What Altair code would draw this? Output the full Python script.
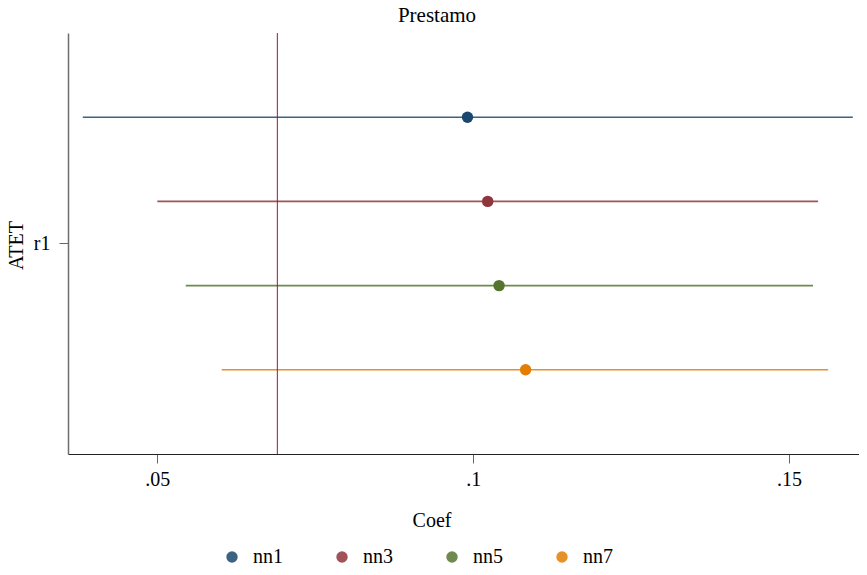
import altair as alt
import pandas as pd

# ---- data ----
models = ["nn1", "nn3", "nn5", "nn7"]
coef = [0.0991, 0.1023, 0.1041, 0.1083]
ci_lo = [0.0382, 0.0500, 0.0545, 0.0602]
ci_hi = [0.1601, 0.1546, 0.1538, 0.1562]
equation = ["r1", "r1", "r1", "r1"]
xline = [0.0690]
x_ticks = [0.05, 0.10, 0.15]
colors = ["#1a476f", "#90353b", "#55752f", "#e37e00"]
title_text = ["Prestamo"]

df = pd.DataFrame({"model": models, "coef": coef, "lo": ci_lo, "hi": ci_hi, "eq": equation})
df_line = pd.DataFrame({"v": xline})
df_title = pd.DataFrame({"t": title_text})

FONT = "Liberation Serif"
x_dom = [0.03586, 0.16108]
x_scale = alt.Scale(domain=x_dom, nice=False, zero=False)

x_axis = alt.Axis(
    values=x_ticks, labelExpr="substring(format(datum.value, '.2~f'), 1)",
    title="Coef", grid=False, tickSize=9, labelPadding=6, titlePadding=21,
    domainColor="#222222", tickColor="#666666", labelFontSize=20, titleFontSize=20,
    labelFont=FONT, titleFont=FONT,
    labelColor="#000000", titleColor="#000000", titleFontWeight="normal",
    titleX=363.5, titleAlign="center",
)
y_enc = alt.Y(
    "eq:N",
    scale=alt.Scale(paddingInner=0, paddingOuter=0),
    axis=alt.Axis(
        title="ATET", grid=False, tickSize=9, labelPadding=9, labelAngle=0,
        domainColor="#6e6e6e", domainWidth=1.5, tickColor="#666666",
        labelFont=FONT, titleFont=FONT,
        labelFontSize=20, titleFontSize=20, labelColor="#000000", titleColor="#000000",
        titleFontWeight="normal", titleAngle=270, titleX=-46, titleY=212,
        titleBaseline="alphabetic", titleAlign="center",
    ),
)
yoff = alt.YOffset("model:N", sort=models, scale=alt.Scale(paddingInner=0, paddingOuter=0.5))
legend = alt.Legend(
    title=None, orient="none", legendX=154, legendY=514, direction="horizontal", columns=4,
    symbolType="circle", symbolSize=130, symbolStrokeWidth=0, labelFontSize=20,
    labelFont=FONT, labelOffset=11, columnPadding=49, padding=0, labelColor="#000000",
)
color = alt.Color("model:N", sort=models, scale=alt.Scale(domain=models, range=colors), legend=legend)

base = alt.Chart(df)
rules = base.mark_rule(strokeWidth=1.6, opacity=0.85).encode(
    x=alt.X("lo:Q", scale=x_scale, axis=x_axis), x2="hi:Q", y=y_enc, yOffset=yoff, color=color
)
points = base.mark_point(filled=True, size=130, opacity=1).encode(
    x=alt.X("coef:Q", scale=x_scale, axis=x_axis), y=y_enc, yOffset=yoff, color=color
)
vline = alt.Chart(df_line).mark_rule(color="#a8123a", strokeWidth=1).encode(
    x=alt.X("v:Q", scale=x_scale, axis=x_axis)
)
title = alt.Chart(df_title).mark_text(
    font=FONT, fontSize=21, color="#000000", align="center", baseline="alphabetic"
).encode(x=alt.value(369), y=alt.value(-11.3), text="t:N")

chart = alt.layer(rules, vline, points, title).properties(
    width=791, height=421,
    autosize=alt.AutoSizeParams(type="none"),
    padding={"left": 60, "top": 25, "right": 0, "bottom": 121},
).configure(font=FONT).configure_legend(labelFont=FONT).configure_view(stroke=None)

chart.save("out.html", embed_options={"renderer": "svg", "actions": False})
